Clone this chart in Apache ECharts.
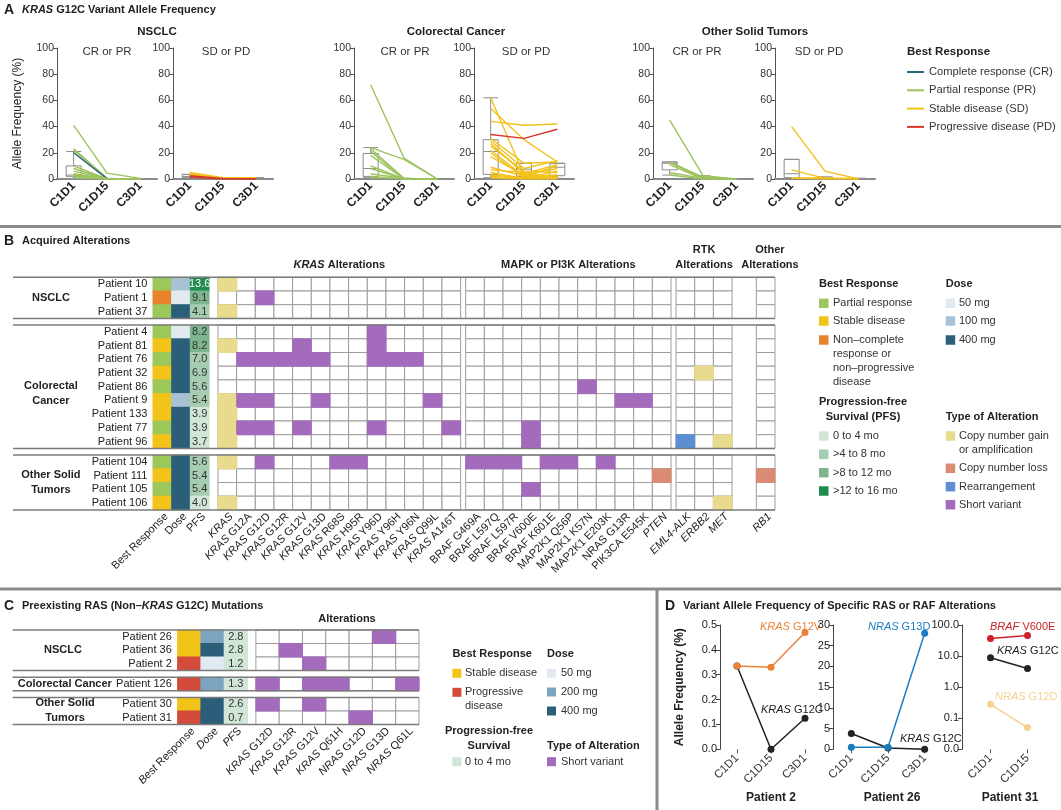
<!DOCTYPE html>
<html>
<head>
<meta charset="utf-8">
<title>KRAS G12C alterations</title>
<script src="https://cdn.jsdelivr.net/npm/echarts@6.0.0/dist/echarts.min.js"></script>
<style>
html, body { margin: 0; padding: 0; background: #fff; }
#main { width: 1061px; height: 810px; }
</style>
</head>
<body>
<div id="main"></div>
<script>
var FONT = "'Liberation Sans', Arial, sans-serif";

// ---------- A: KRAS G12C VAF per patient: [best response, C1D1, C1D15, C3D1] ----------
var visits = ['C1D1', 'C1D15', 'C3D1'];
var nsclcCrPr = [
  ['PR', 41, 4.5, 0.5], ['PR', 23, 0.5, 0], ['PR', 22, 0.5, 0], ['CR', 20, 0.3, 0],
  ['PR', 10, 0, 0], ['PR', 8, 0, 0], ['PR', 6, 0, 0], ['PR', 4, 0, 0],
  ['PR', 3, 0.3, 0], ['PR', 2, 0, 0], ['PR', 1, 0, 0]
];
var nsclcSdPd = [
  ['SD', 5, 1, 1], ['SD', 4, 0.5, 0.5], ['SD', 3, 0.5, 1], ['PD', 2.5, 0.5, 0], ['PD', 1.5, 0, 0]
];
var crcCrPr = [
  ['PR', 72, 16, 0], ['PR', 24, 15, 0], ['PR', 23, 0.5, 0], ['PR', 21, 0, 0], ['PR', 18, 0, 0],
  ['PR', 10, 0, 0], ['PR', 8, 0, 0], ['PR', 4, 0.5, 0], ['PR', 2, 0, 0], ['PR', 1, 0.5, 0]
];
var crcSdPd = [
  ['SD', 62, 3, 1], ['SD', 54, 30, 13], ['SD', 44, 41, 42], ['PD', 34, 31, 38],
  ['SD', 31, 12, 13], ['SD', 29, 8, 14], ['SD', 27, 4, 11], ['SD', 25, 6, 5],
  ['SD', 22, 2, 3], ['SD', 20, 1, 2], ['SD', 17, 3, 8], ['SD', 9, 2, 10],
  ['SD', 7, 5, 1], ['SD', 5, 0.5, 6], ['SD', 3, 1, 2], ['SD', 2, 0.5, 0.5], ['SD', 1, 0, 0]
];
var otherCrPr = [
  ['PR', 45, 2.5, 0], ['PR', 13, 1.5, 0], ['PR', 12.5, 0.5, 0], ['PR', 11, 0, 0], ['PR', 5, 0.5, 0], ['PR', 3, 0, 0]
];
var otherSdPd = [
  ['SD', 40, 6, 0], ['SD', 7, 0.5, 0], ['SD', 1, 0, 0.5], ['SD', 0.5, 1, 0]
];
// box summaries per visit: [min, q1, median, q3, max]
var nsclcCrPrBox = [[0, 2, 3, 10, 21], [0, 0, 0, 0.3, 0.5], [0, 0, 0, 0, 0]];
var nsclcSdPdBox = [[1, 1.5, 2, 3.5, 3.5], [0, 0, 0.5, 0.5, 1], [0, 0, 0.5, 1, 1]];
var crcCrPrBox = [[1, 2, 8, 19.5, 24], [0, 0, 0, 0.5, 0.5], [0, 0, 0, 0, 0]];
var crcSdPdBox = [[1, 3.5, 21, 30, 62], [0, 2, 7.5, 12, 12], [0.5, 2.5, 9, 12, 12]];
var otherCrPrBox = [[3, 7, 12, 13, 13], [0, 0, 0.5, 1, 2.5], [0, 0, 0, 0, 0]];
var otherSdPdBox = [[0, 1, 4, 15, 15], [0, 0.5, 1, 1.5, 1.5], [0, 0, 0, 0.5, 0.5]];
var aGroupTitles = ['NSCLC', 'Colorectal Cancer', 'Other Solid Tumors'];
var aSubTitles = ['CR or PR', 'SD or PD', 'CR or PR', 'SD or PD', 'CR or PR', 'SD or PD'];

// ---------- B: acquired alterations ----------
var bGroupNames = ['NSCLC', 'Colorectal\nCancer', 'Other Solid\nTumors'];
var bPatients = [
  ['Patient 10', 'Patient 1', 'Patient 37'],
  ['Patient 4', 'Patient 81', 'Patient 76', 'Patient 32', 'Patient 86', 'Patient 9', 'Patient 133', 'Patient 77', 'Patient 96'],
  ['Patient 104', 'Patient 111', 'Patient 105', 'Patient 106']
];
var bResponse = ['PR', 'NON', 'PR', 'PR', 'SD', 'PR', 'SD', 'PR', 'SD', 'SD', 'PR', 'SD', 'PR', 'SD', 'PR', 'SD'];
var bDose = [100, 50, 400, 50, 400, 400, 400, 400, 100, 400, 400, 400, 400, 400, 400, 400];
var bPfs = [13.6, 9.1, 4.1, 8.2, 8.2, 7.0, 6.9, 5.6, 5.4, 3.9, 3.9, 3.7, 5.6, 5.4, 5.4, 4.0];
var krasCols = ['KRAS', 'KRAS G12A', 'KRAS G12D', 'KRAS G12R', 'KRAS G12V', 'KRAS G13D', 'KRAS R68S',
  'KRAS H95R', 'KRAS Y96D', 'KRAS Y96H', 'KRAS Y96N', 'KRAS Q99L', 'KRAS A146T'];
var mapkCols = ['BRAF G469A', 'BRAF L597Q', 'BRAF L597R', 'BRAF V600E', 'BRAF K601E', 'MAP2K1 Q56P',
  'MAP2K1 K57N', 'MAP2K1 E203K', 'NRAS G13R', 'PIK3CA E545K', 'PTEN'];
var rtkCols = ['EML4-ALK', 'ERBB2', 'MET'];
var otherCols = ['RB1'];
var bAlt = [
  ['Patient 10', 'KRAS', 'gain'],
  ['Patient 1', 'KRAS G12D', 'sv'],
  ['Patient 37', 'KRAS', 'gain'],
  ['Patient 4', 'KRAS Y96D', 'sv'],
  ['Patient 81', 'KRAS', 'gain'], ['Patient 81', 'KRAS G12V', 'sv'], ['Patient 81', 'KRAS Y96D', 'sv'],
  ['Patient 76', 'KRAS G12A', 'sv'], ['Patient 76', 'KRAS G12D', 'sv'], ['Patient 76', 'KRAS G12R', 'sv'],
  ['Patient 76', 'KRAS G12V', 'sv'], ['Patient 76', 'KRAS G13D', 'sv'], ['Patient 76', 'KRAS Y96D', 'sv'],
  ['Patient 76', 'KRAS Y96H', 'sv'], ['Patient 76', 'KRAS Y96N', 'sv'],
  ['Patient 32', 'ERBB2', 'gain'],
  ['Patient 86', 'MAP2K1 K57N', 'sv'],
  ['Patient 9', 'KRAS', 'gain'], ['Patient 9', 'KRAS G12A', 'sv'], ['Patient 9', 'KRAS G12D', 'sv'],
  ['Patient 9', 'KRAS G13D', 'sv'], ['Patient 9', 'KRAS Q99L', 'sv'], ['Patient 9', 'NRAS G13R', 'sv'],
  ['Patient 9', 'PIK3CA E545K', 'sv'],
  ['Patient 133', 'KRAS', 'gain'],
  ['Patient 77', 'KRAS', 'gain'], ['Patient 77', 'KRAS G12A', 'sv'], ['Patient 77', 'KRAS G12D', 'sv'],
  ['Patient 77', 'KRAS G12V', 'sv'], ['Patient 77', 'KRAS Y96D', 'sv'], ['Patient 77', 'KRAS A146T', 'sv'],
  ['Patient 77', 'BRAF V600E', 'sv'],
  ['Patient 96', 'KRAS', 'gain'], ['Patient 96', 'BRAF V600E', 'sv'], ['Patient 96', 'EML4-ALK', 'rearr'],
  ['Patient 96', 'MET', 'gain'],
  ['Patient 104', 'KRAS', 'gain'], ['Patient 104', 'KRAS G12D', 'sv'], ['Patient 104', 'KRAS R68S', 'sv'],
  ['Patient 104', 'KRAS H95R', 'sv'], ['Patient 104', 'BRAF G469A', 'sv'], ['Patient 104', 'BRAF L597Q', 'sv'],
  ['Patient 104', 'BRAF L597R', 'sv'], ['Patient 104', 'BRAF K601E', 'sv'], ['Patient 104', 'MAP2K1 Q56P', 'sv'],
  ['Patient 104', 'MAP2K1 E203K', 'sv'],
  ['Patient 111', 'PTEN', 'loss'], ['Patient 111', 'RB1', 'loss'],
  ['Patient 105', 'BRAF V600E', 'sv'],
  ['Patient 106', 'KRAS', 'gain'], ['Patient 106', 'MET', 'gain']
];

// ---------- C: preexisting RAS mutations ----------
var cGroupNames = ['NSCLC', 'Colorectal Cancer', 'Other Solid\nTumors'];
var cPatients = [['Patient 26', 'Patient 36', 'Patient 2'], ['Patient 126'], ['Patient 30', 'Patient 31']];
var cResponse = ['SD', 'SD', 'PD', 'PD', 'SD', 'PD'];
var cDose = [200, 400, 50, 200, 400, 400];
var cPfs = [2.8, 2.8, 1.2, 1.3, 2.6, 0.7];
var cAltCols = ['KRAS G12D', 'KRAS G12R', 'KRAS G12V', 'KRAS Q61H', 'NRAS G12D', 'NRAS G13D', 'NRAS Q61L'];
var cAlt = [
  ['Patient 26', 'NRAS G13D', 'sv'], ['Patient 36', 'KRAS G12R', 'sv'], ['Patient 2', 'KRAS G12V', 'sv'],
  ['Patient 126', 'KRAS G12D', 'sv'], ['Patient 126', 'KRAS G12V', 'sv'], ['Patient 126', 'KRAS Q61H', 'sv'],
  ['Patient 126', 'NRAS Q61L', 'sv'], ['Patient 30', 'KRAS G12D', 'sv'], ['Patient 30', 'KRAS G12V', 'sv'],
  ['Patient 31', 'NRAS G12D', 'sv']
];

// ---------- D: specific RAS / RAF alterations ----------
var p2Visits = ['C1D1', 'C1D15', 'C3D1'];
var p2KrasG12V = [0.335, 0.33, 0.47];
var p2KrasG12C = [0.335, 0.0, 0.125];
var p26Visits = ['C1D1', 'C1D15', 'C3D1'];
var p26NrasG13D = [0.5, 0.5, 28];
var p26KrasG12C = [3.8, 0.3, 0];
var p31Visits = ['C1D1', 'C1D15'];
var p31BrafV600E = [37, 46];
var p31KrasG12C = [8.8, 4.0];
var p31NrasG12D = [0.28, 0.05];

// ---------- colours ----------
var respName = { CR: 'Complete response (CR)', PR: 'Partial response (PR)', SD: 'Stable disease (SD)', PD: 'Progressive disease (PD)' };
var respLine = { CR: '#2e6582', PR: '#9dc35e', SD: '#f2c21b', PD: '#d8382c' };
var respFill = { PR: '#9cc85b', SD: '#f2c318', NON: '#e8832c', PD: '#d24b3b' };
var doseFill = { 50: '#e2eaf1', 100: '#a9c1d5', 200: '#7ea5c0', 400: '#2b5f79' };
var altFill = { gain: '#e9db8e', loss: '#d98b73', rearr: '#5b8ed2', sv: '#a46bbd' };
function pfsFill(v) {
  if (v <= 4) return '#d2e6d7';
  if (v <= 8) return '#a6cdb2';
  if (v <= 12) return '#7db58f';
  return '#1f8b4c';
}

var grids = [], xAxes = [], yAxes = [], series = [], graphics = [];

function rich(size, weight, color) {
  return { i: { fontStyle: 'italic', fontSize: size, fontWeight: weight, fontFamily: FONT, fill: color } };
}
function gText(x, y, text, o) {
  o = o || {};
  var size = o.size || 11, weight = o.weight || 'normal', color = o.color || '#222';
  return {
    type: 'text', x: x, y: y, silent: true, rotation: o.rot || 0,
    style: {
      text: text, fontSize: size, fontWeight: weight, fontFamily: FONT, fill: color,
      align: o.align || 'left', verticalAlign: o.va || 'middle', lineHeight: o.lh || size * 1.25,
      rich: rich(size, weight, color)
    }
  };
}
function gRect(x, y, w, h, color) {
  return { type: 'rect', silent: true, shape: { x: x, y: y, width: w, height: h }, style: { fill: color } };
}
function gLine(x1, y1, x2, y2, w) {
  return { type: 'line', silent: true, shape: { x1: x1, y1: y1, x2: x2, y2: y2 }, style: { stroke: '#8b8b8b', lineWidth: w } };
}

// ================= Panel A =================
var aSets = [nsclcCrPr, nsclcSdPd, crcCrPr, crcSdPd, otherCrPr, otherSdPd];
var aBoxes = [nsclcCrPrBox, nsclcSdPdBox, crcCrPrBox, crcSdPdBox, otherCrPrBox, otherSdPdBox];
var aLeft = [57, 173, 354, 474, 653, 775];
var aSubX = [107, 226, 405, 526, 697, 819];
var aGroupX = [157, 456, 755];

aSets.forEach(function (set, i) {
  grids.push({ left: aLeft[i], top: 48, width: 100, height: 131, containLabel: false, outerBoundsMode: 'none' });
  xAxes.push({
    gridIndex: i, type: 'category', data: visits, boundaryGap: true,
    axisLine: { lineStyle: { color: '#8a8a8a', width: 2 } },
    axisTick: { show: false },
    axisLabel: { interval: 0, rotate: 45, fontSize: 12, fontWeight: 'bold', color: '#222', margin: 5, fontFamily: FONT }
  });
  yAxes.push({
    gridIndex: i, type: 'value', min: 0, max: 100, interval: 20,
    name: i === 0 ? 'Allele Frequency (%)' : '', nameLocation: 'middle', nameGap: 33, nameRotate: 90,
    nameTextStyle: { fontSize: 12, color: '#222', fontFamily: FONT },
    axisLine: { show: true, lineStyle: { color: '#555', width: 1 } },
    axisTick: { show: true, length: 4, lineStyle: { color: '#555' } },
    splitLine: { show: false },
    axisLabel: { fontSize: 10.5, color: '#333', margin: 3, fontFamily: FONT }
  });
  series.push({
    type: 'boxplot', xAxisIndex: i, yAxisIndex: i, data: aBoxes[i], boxWidth: [15, 15], z: 2, silent: true,
    itemStyle: { color: 'rgba(255,255,255,0)', borderColor: '#8e8e8e', borderWidth: 1 }
  });
  set.forEach(function (r) {
    series.push({
      type: 'line', name: respName[r[0]], xAxisIndex: i, yAxisIndex: i, data: r.slice(1),
      symbol: 'none', z: 3, silent: true,
      lineStyle: { width: 1.4, color: respLine[r[0]] }, itemStyle: { color: respLine[r[0]] }
    });
  });
  graphics.push(gText(aSubX[i], 52, aSubTitles[i], { size: 11.5, align: 'center', color: '#333' }));
});
aGroupTitles.forEach(function (t, g) {
  graphics.push(gText(aGroupX[g], 32, t, { size: 11.5, weight: 'bold', align: 'center' }));
});
graphics.push(gText(907, 52, 'Best Response', { size: 11.5, weight: 'bold' }));

// ================= Tables (B and C) =================
function customSeries(gi, list, render, z) {
  return {
    type: 'custom', coordinateSystem: 'cartesian2d', xAxisIndex: gi, yAxisIndex: gi,
    data: list.map(function (o) { return [o.x, o.y]; }), renderItem: render,
    clip: false, silent: true, z: z, animation: false
  };
}

function buildTable(cfg) {
  var gi = cfg.grid;
  grids.push({ left: cfg.box.left, top: cfg.box.top, width: cfg.box.width, height: cfg.box.height, containLabel: false, outerBoundsMode: 'none' });
  xAxes.push({ gridIndex: gi, type: 'value', min: cfg.xMin, max: cfg.xMax, show: false });
  yAxes.push({ gridIndex: gi, type: 'value', min: 0, max: cfg.yMax, inverse: true, show: false });

  var rows = [];
  cfg.patients.forEach(function (grp, g) {
    grp.forEach(function (p, k) { rows.push({ name: p, y: cfg.groupStart[g] + k }); });
  });
  var colX = {}, colOrder = [];
  cfg.blocks.forEach(function (b) {
    b.cols.forEach(function (c, j) { colX[c] = b.start + j; colOrder.push(c); });
  });
  var rowY = {};
  rows.forEach(function (r) { rowY[r.name] = r.y; });

  var blank = [], filled = [], texts = [], rules = [];
  rows.forEach(function (r, i) {
    filled.push({ x: 0, y: r.y, fill: respFill[cfg.response[i]] });
    filled.push({ x: 1, y: r.y, fill: doseFill[cfg.dose[i]] });
    filled.push({ x: 2, y: r.y, fill: pfsFill(cfg.pfs[i]) });
    texts.push({ x: 2.5, y: r.y + 0.5, text: cfg.pfs[i].toFixed(1), color: cfg.pfs[i] > 12 ? '#fff' : '#333' });
    texts.push({ x: cfg.labelX, y: r.y + 0.5, text: r.name, align: 'right' });
    colOrder.forEach(function (c) { blank.push({ x: colX[c], y: r.y }); });
  });
  cfg.alts.forEach(function (a) {
    filled.push({ x: colX[a[1]], y: rowY[a[0]], fill: altFill[a[2]] });
  });
  ['Best Response', 'Dose', 'PFS'].concat(colOrder).forEach(function (c, k) {
    var x = k < 3 ? k : colX[c];
    texts.push({ x: x + 0.5, y: cfg.yMax, text: cfg.fmt(c), align: 'right', rot: Math.PI / 4, dx: 4, dy: 5 });
  });
  cfg.groupLabels.forEach(function (gl, g) {
    texts.push({ x: gl.x, y: gl.y, text: gl.text, align: gl.align || 'center', weight: 'bold', lh: 15 });
    var y0 = cfg.groupStart[g], y1 = y0 + cfg.patients[g].length;
    rules.push({ x: cfg.xMin, x1: cfg.xMax, y: y0 });
    rules.push({ x: cfg.xMin, x1: cfg.xMax, y: y1 });
  });
  cfg.headers.forEach(function (h) {
    texts.push({ x: h.x, y: h.y, text: h.text, weight: 'bold', lh: 15 });
  });

  series.push(customSeries(gi, blank, function (params, api) {
    var o = blank[params.dataIndex];
    var a = api.coord([o.x, o.y]), b = api.coord([o.x + 1, o.y + 1]);
    return { type: 'rect', shape: { x: a[0], y: a[1], width: b[0] - a[0], height: b[1] - a[1] },
      style: { fill: '#fff', stroke: '#9d9d9d', lineWidth: 1 } };
  }, 2));
  series.push(customSeries(gi, filled, function (params, api) {
    var o = filled[params.dataIndex];
    var a = api.coord([o.x, o.y]), b = api.coord([o.x + 1, o.y + 1]);
    return { type: 'rect', shape: { x: a[0] - 0.5, y: a[1] - 0.5, width: b[0] - a[0] + 1, height: b[1] - a[1] + 1 },
      style: { fill: o.fill } };
  }, 3));
  series.push(customSeries(gi, rules, function (params, api) {
    var o = rules[params.dataIndex];
    var a = api.coord([o.x, o.y]), b = api.coord([o.x1, o.y]);
    return { type: 'line', shape: { x1: a[0], y1: a[1], x2: b[0], y2: b[1] },
      style: { stroke: '#7b7b7b', lineWidth: 1.5 } };
  }, 4));
  series.push(customSeries(gi, texts, function (params, api) {
    var o = texts[params.dataIndex];
    var p = api.coord([o.x, o.y]);
    var w = o.weight || 'normal', col = o.color || '#222';
    return { type: 'text', x: p[0] + (o.dx || 0), y: p[1] + (o.dy || 0), rotation: o.rot || 0,
      style: { text: o.text, fontSize: 11, fontWeight: w, fontFamily: FONT, fill: col,
        align: o.align || 'center', verticalAlign: 'middle', lineHeight: o.lh || 13, rich: rich(11, w, col) } };
  }, 5));
}

var italicGenes = ['PTEN', 'EML4-ALK', 'ERBB2', 'MET', 'RB1'];
buildTable({
  grid: 6,
  box: { left: 13, top: 277.3, width: 762, height: 232.6 },
  xMin: -7.5, xMax: 33.32, yMax: 16.98,
  groupStart: [0, 3.49, 12.98],
  patients: bPatients, response: bResponse, dose: bDose, pfs: bPfs, alts: bAlt,
  blocks: [
    { start: 3.48, cols: krasCols }, { start: 16.75, cols: mapkCols },
    { start: 28.02, cols: rtkCols }, { start: 32.32, cols: otherCols }
  ],
  labelX: -0.3,
  groupLabels: [
    { text: bGroupNames[0], x: -5.47, y: 1.5 },
    { text: bGroupNames[1], x: -5.47, y: 8.48 },
    { text: bGroupNames[2], x: -5.47, y: 14.98 }
  ],
  headers: [
    { text: '{i|KRAS} Alterations', x: 9.98, y: -0.9 },
    { text: 'MAPK or PI3K Alterations', x: 22.25, y: -0.9 },
    { text: 'RTK\nAlterations', x: 29.52, y: -1.45 },
    { text: 'Other\nAlterations', x: 33.05, y: -1.45 }
  ],
  fmt: function (c) {
    if (c.indexOf('KRAS') === 0) return '{i|KRAS}' + c.slice(4);
    if (italicGenes.indexOf(c) >= 0) return '{i|' + c + '}';
    return c;
  }
});

buildTable({
  grid: 7,
  box: { left: 12.6, top: 630, width: 406.4, height: 94.5 },
  xMin: -7.08, xMax: 10.36, yMax: 7,
  groupStart: [0, 3.5, 5],
  patients: cPatients, response: cResponse, dose: cDose, pfs: cPfs, alts: cAlt,
  blocks: [{ start: 3.36, cols: cAltCols }],
  labelX: -0.25,
  groupLabels: [
    { text: cGroupNames[0], x: -4.92, y: 1.5 },
    { text: cGroupNames[1], x: -6.86, y: 4.0, align: 'left' },
    { text: cGroupNames[2], x: -4.83, y: 5.96 }
  ],
  headers: [{ text: 'Alterations', x: 7.27, y: -0.8 }],
  fmt: function (c) {
    var k = c.indexOf(' ');
    return '{i|' + c.slice(0, k) + '}' + c.slice(k);
  }
});

// ================= Panel D =================
var dBoxes = [
  { left: 720, top: 625, width: 102, height: 124.3, off: 0 },
  { left: 833, top: 625, width: 110, height: 124.3, off: 0 },
  { left: 972, top: 625, width: 74, height: 124.3, off: 10 }
];
var dCats = [p2Visits, p26Visits, p31Visits];
dBoxes.forEach(function (b, k) {
  var gi = 8 + k;
  grids.push({ left: b.left, top: b.top, width: b.width, height: b.height, containLabel: false, outerBoundsMode: 'none' });
  xAxes.push({
    gridIndex: gi, type: 'category', data: dCats[k], boundaryGap: true,
    axisLine: { show: false },
    axisTick: { show: true, alignWithLabel: true, length: 4, lineStyle: { color: '#555' } },
    axisLabel: { interval: 0, rotate: 45, fontSize: 11.5, color: '#333', margin: 7, fontFamily: FONT }
  });
  var y = {
    gridIndex: gi, offset: b.off,
    axisLine: { show: true, lineStyle: { color: '#444', width: 1 } },
    axisTick: { show: true, length: 4, lineStyle: { color: '#444' } },
    splitLine: { show: false },
    axisLabel: { fontSize: 11, color: '#222', margin: 3, fontFamily: FONT,
      formatter: function (v) { return Number(v).toFixed(1); } }
  };
  if (k === 0) {
    y.type = 'value'; y.min = 0; y.max = 0.5; y.interval = 0.1;
    y.name = 'Allele Frequency (%)'; y.nameLocation = 'middle'; y.nameGap = 34; y.nameRotate = 90;
    y.nameTextStyle = { fontSize: 12, fontWeight: 'bold', color: '#222', fontFamily: FONT };
  } else if (k === 1) {
    y.type = 'value'; y.min = 0; y.max = 30; y.interval = 5;
    y.axisLabel.formatter = '{value}';
  } else {
    y.type = 'log'; y.logBase = 10; y.min = 0.01; y.max = 100;
  }
  yAxes.push(y);
});
function dLine(gi, data, color) {
  return {
    type: 'line', xAxisIndex: gi, yAxisIndex: gi, data: data, symbol: 'circle', symbolSize: 7,
    lineStyle: { width: 1.5, color: color }, itemStyle: { color: color }, z: 3, silent: true
  };
}
series.push(dLine(8, p2KrasG12C, '#222'));
series.push(dLine(8, p2KrasG12V, '#ec8138'));
series.push(dLine(9, p26KrasG12C, '#222'));
series.push(dLine(9, p26NrasG13D, '#1b7dc1'));
series.push(dLine(10, p31BrafV600E, '#cc2128'));
series.push(dLine(10, p31KrasG12C, '#222'));
series.push(dLine(10, p31NrasG12D, '#f6d28f'));

graphics.push(gText(760, 627, '{i|KRAS} G12V', { size: 11, color: '#ec8138' }));
graphics.push(gText(761, 710, '{i|KRAS} G12C', { size: 11, color: '#222' }));
graphics.push(gText(868, 627, '{i|NRAS} G13D', { size: 11, color: '#1b7dc1' }));
graphics.push(gText(900, 739, '{i|KRAS} G12C', { size: 11, color: '#222' }));
graphics.push(gText(990, 627, '{i|BRAF} V600E', { size: 11, color: '#cc2128' }));
graphics.push(gText(997, 651, '{i|KRAS} G12C', { size: 11, color: '#222' }));
graphics.push(gText(995, 697, '{i|NRAS} G12D', { size: 11, color: '#f6d28f' }));
graphics.push(gText(771, 798, 'Patient 2', { size: 12, weight: 'bold', align: 'center' }));
graphics.push(gText(892, 798, 'Patient 26', { size: 12, weight: 'bold', align: 'center' }));
graphics.push(gText(1010, 798, 'Patient 31', { size: 12, weight: 'bold', align: 'center' }));

// ================= titles, separators, legends =================
graphics.push(gText(4, 10, 'A', { size: 14, weight: 'bold' }));
graphics.push(gText(22, 10, '{i|KRAS} G12C Variant Allele Frequency', { size: 11, weight: 'bold' }));
graphics.push(gText(4, 241, 'B', { size: 14, weight: 'bold' }));
graphics.push(gText(22, 241, 'Acquired Alterations', { size: 11, weight: 'bold' }));
graphics.push(gText(4, 606, 'C', { size: 14, weight: 'bold' }));
graphics.push(gText(22, 606, 'Preexisting RAS (Non–{i|KRAS} G12C) Mutations', { size: 11, weight: 'bold' }));
graphics.push(gText(665, 606, 'D', { size: 14, weight: 'bold' }));
graphics.push(gText(683, 606, 'Variant Allele Frequency of Specific RAS or RAF Alterations', { size: 11, weight: 'bold' }));
graphics.push(gLine(0, 226.5, 1061, 226.5, 3));
graphics.push(gLine(0, 589, 1061, 589, 3));
graphics.push(gLine(657, 589, 657, 810, 3));

function legendItem(x, y, color, text, sw, tx) {
  graphics.push(gRect(x, y - sw / 2, sw, sw, color));
  graphics.push(gText(tx, y, text, { size: 11, color: '#333', va: 'top', lh: 14 }));
  graphics[graphics.length - 1].y = y - 7;
}
// B legend
graphics.push(gText(819, 284.3, 'Best Response', { size: 11, weight: 'bold' }));
legendItem(819, 303.3, respFill.PR, 'Partial response', 9.5, 833);
legendItem(819, 321, respFill.SD, 'Stable disease', 9.5, 833);
legendItem(819, 340, respFill.NON, 'Non–complete\nresponse or\nnon–progressive\ndisease', 9.5, 833);
graphics.push(gText(945.7, 284.3, 'Dose', { size: 11, weight: 'bold' }));
legendItem(945.7, 303.3, doseFill[50], '50 mg', 9.5, 959);
legendItem(945.7, 321, doseFill[100], '100 mg', 9.5, 959);
legendItem(945.7, 340, doseFill[400], '400 mg', 9.5, 959);
graphics.push(gText(863, 409.3, 'Progression-free\nSurvival (PFS)', { size: 11, weight: 'bold', align: 'center', lh: 15.3 }));
legendItem(819, 436, pfsFill(2), '0 to 4 mo', 9.5, 833);
legendItem(819, 454.3, pfsFill(6), '>4 to 8 mo', 9.5, 833);
legendItem(819, 472.7, pfsFill(10), '>8 to 12 mo', 9.5, 833);
legendItem(819, 491, pfsFill(14), '>12 to 16 mo', 9.5, 833);
graphics.push(gText(945.7, 416.7, 'Type of Alteration', { size: 11, weight: 'bold' }));
legendItem(945.7, 436, altFill.gain, 'Copy number gain\nor amplification', 9.5, 959);
legendItem(945.7, 468.3, altFill.loss, 'Copy number loss', 9.5, 959);
legendItem(945.7, 486.7, altFill.rearr, 'Rearrangement', 9.5, 959);
legendItem(945.7, 504.7, altFill.sv, 'Short variant', 9.5, 959);
// C legend
graphics.push(gText(452.4, 654, 'Best Response', { size: 11, weight: 'bold' }));
legendItem(452.4, 673.3, respFill.SD, 'Stable disease', 9, 465);
legendItem(452.4, 692.3, respFill.PD, 'Progressive\ndisease', 9, 465);
graphics.push(gText(547, 654, 'Dose', { size: 11, weight: 'bold' }));
legendItem(547, 673.3, doseFill[50], '50 mg', 9, 561);
legendItem(547, 692, doseFill[200], '200 mg', 9, 561);
legendItem(547, 711, doseFill[400], '400 mg', 9, 561);
graphics.push(gText(489, 738.2, 'Progression-free\nSurvival', { size: 11, weight: 'bold', align: 'center', lh: 15 }));
legendItem(452.4, 761.7, pfsFill(2), '0 to 4 mo', 9, 465);
graphics.push(gText(547, 745.7, 'Type of Alteration', { size: 11, weight: 'bold' }));
legendItem(547, 761.7, altFill.sv, 'Short variant', 9, 561);

var chart = echarts.init(document.getElementById('main'));
chart.setOption({
  animation: false,
  backgroundColor: '#fff',
  textStyle: { fontFamily: FONT },
  legend: {
    orient: 'vertical', left: 907, top: 65, padding: 0, icon: 'rect', itemWidth: 17, itemHeight: 2, itemGap: 4.3,
    selectedMode: false,
    textStyle: { fontSize: 11.2, color: '#333', lineHeight: 14, fontFamily: FONT },
    data: [respName.CR, respName.PR, respName.SD, respName.PD]
  },
  grid: grids,
  xAxis: xAxes,
  yAxis: yAxes,
  series: series,
  graphic: graphics
});
</script>
</body>
</html>
